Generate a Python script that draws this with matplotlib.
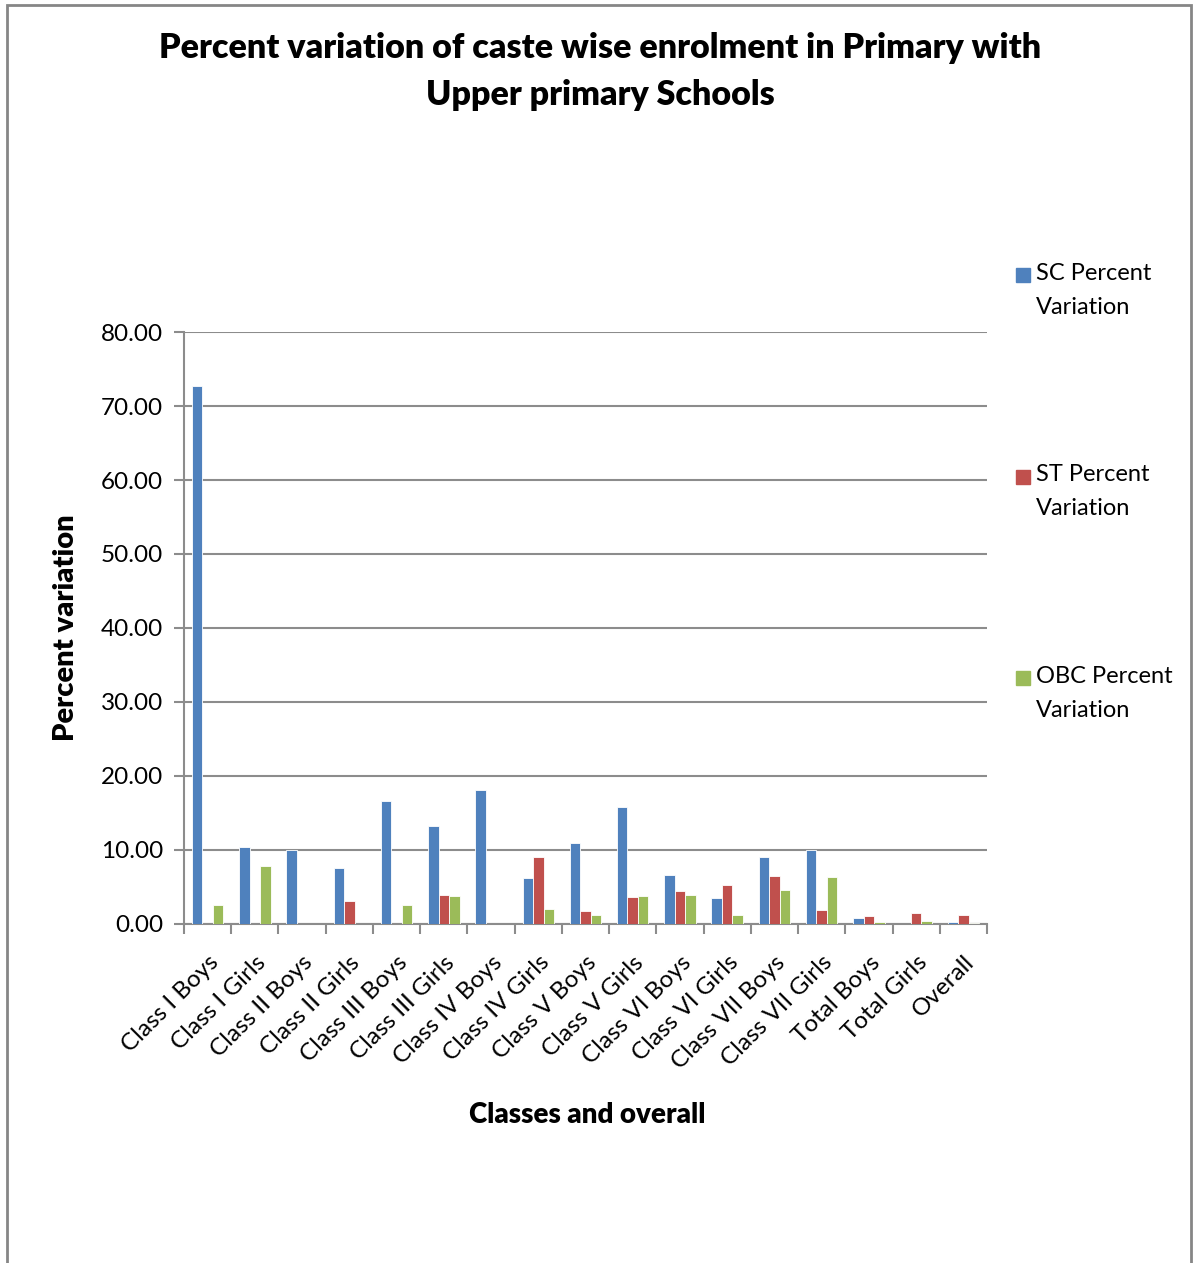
import numpy as np
import matplotlib
matplotlib.use('Agg')
import matplotlib.pyplot as plt
from matplotlib.patches import Rectangle

plt.rcParams['font.family'] = ['Lato', 'DejaVu Sans']

categories = ['Class I Boys', 'Class I Girls', 'Class II Boys', 'Class II Girls',
              'Class III Boys', 'Class III Girls', 'Class IV Boys', 'Class IV Girls',
              'Class V Boys', 'Class V Girls', 'Class VI Boys', 'Class VI Girls',
              'Class VII Boys', 'Class VII Girls', 'Total Boys', 'Total Girls', 'Overall']
sc = [72.7, 10.45, 9.95, 7.6, 16.6, 13.2, 18.1, 6.2, 11.0, 15.8, 6.6, 3.5,
      9.05, 9.95, 0.77, 0.0, 0.3]
st = [0.0, 0.0, 0.0, 3.06, 0.0, 3.9, 0.0, 9.05, 1.7, 3.7, 4.4, 5.3,
      6.5, 1.94, 1.13, 1.44, 1.26]
obc = [2.6, 7.84, 0.0, 0.0, 2.57, 3.8, 0.0, 2.07, 1.26, 3.8, 3.9, 1.26,
       4.55, 6.35, 0.23, 0.4, 0.1]
series_names = ['SC Percent\nVariation', 'ST Percent\nVariation', 'OBC Percent\nVariation']
colors = ['#4F81BD', '#C0504D', '#9BBB59']

W, H = 1193, 1263
fig = plt.figure(figsize=(W / 100, H / 100), dpi=100)
ax = fig.add_axes([184 / W, 1 - 924 / H, (987 - 184) / W, (924 - 332) / H])

x = np.arange(len(categories))
bw = 0.222
for i, (vals, c) in enumerate(zip([sc, st, obc], colors)):
    ax.bar(x + (i - 1) * bw, vals, width=bw, color=c, edgecolor='white',
           linewidth=0.6, zorder=3)

grid_c = '#8C8C8C'
ax.set_xlim(-0.5, len(categories) - 0.5)
ax.set_ylim(0, 80)
ax.set_yticks(np.arange(0, 81, 10))
ax.set_yticklabels([f'{v:.2f}' for v in np.arange(0, 81, 10)], fontsize=17.5)
ax.yaxis.grid(True, color=grid_c, linewidth=1.5, zorder=0)
ax.set_xticks(np.arange(-0.5, len(categories), 1.0))
ax.set_xticklabels([])
ax.set_xticks(x, minor=True)
ax.set_xticklabels(categories, minor=True, rotation=45, ha='right',
                   rotation_mode='anchor', fontsize=17.5)
ax.tick_params(axis='x', which='minor', length=0, pad=20)
ax.tick_params(axis='x', which='major', length=7, color=grid_c, width=1.5)
ax.tick_params(axis='y', length=7, color=grid_c, width=1.5, pad=8)
for s in ['top', 'right']:
    ax.spines[s].set_visible(False)
for s in ['left', 'bottom']:
    ax.spines[s].set_color(grid_c)
    ax.spines[s].set_linewidth(1.5)

ax.set_ylabel('Percent variation', fontsize=21, fontweight='heavy', labelpad=16)
fig.text(587 / W, 1 - 1115 / H, 'Classes and overall', fontsize=20,
         fontweight='heavy', ha='center', va='center')
fig.text(600 / W, 1 - 48 / H, 'Percent variation of caste wise enrolment in Primary with',
         fontsize=24.5, fontweight='heavy', ha='center', va='center')
fig.text(600 / W, 1 - 95 / H, 'Upper primary Schools',
         fontsize=24.5, fontweight='heavy', ha='center', va='center')

# legend
for i, (name, c) in enumerate(zip(series_names, colors)):
    ytop = 275 + i * 201.5
    fig.patches.append(Rectangle((1016 / W, 1 - (ytop + 7) / H), 14 / W, 14 / H,
                                 transform=fig.transFigure, color=c))
    fig.text(1036 / W, 1 - (ytop - 12) / H, name, fontsize=17, ha='left', va='top',
             linespacing=1.75)

# outer frame
fig.patches.append(Rectangle((7 / W, -0.01), (1191 - 7) / W, 1 - 5 / H + 0.01,
                             transform=fig.transFigure, fill=False,
                             edgecolor='#868686', linewidth=2))

fig.savefig('out.png', dpi=100)
